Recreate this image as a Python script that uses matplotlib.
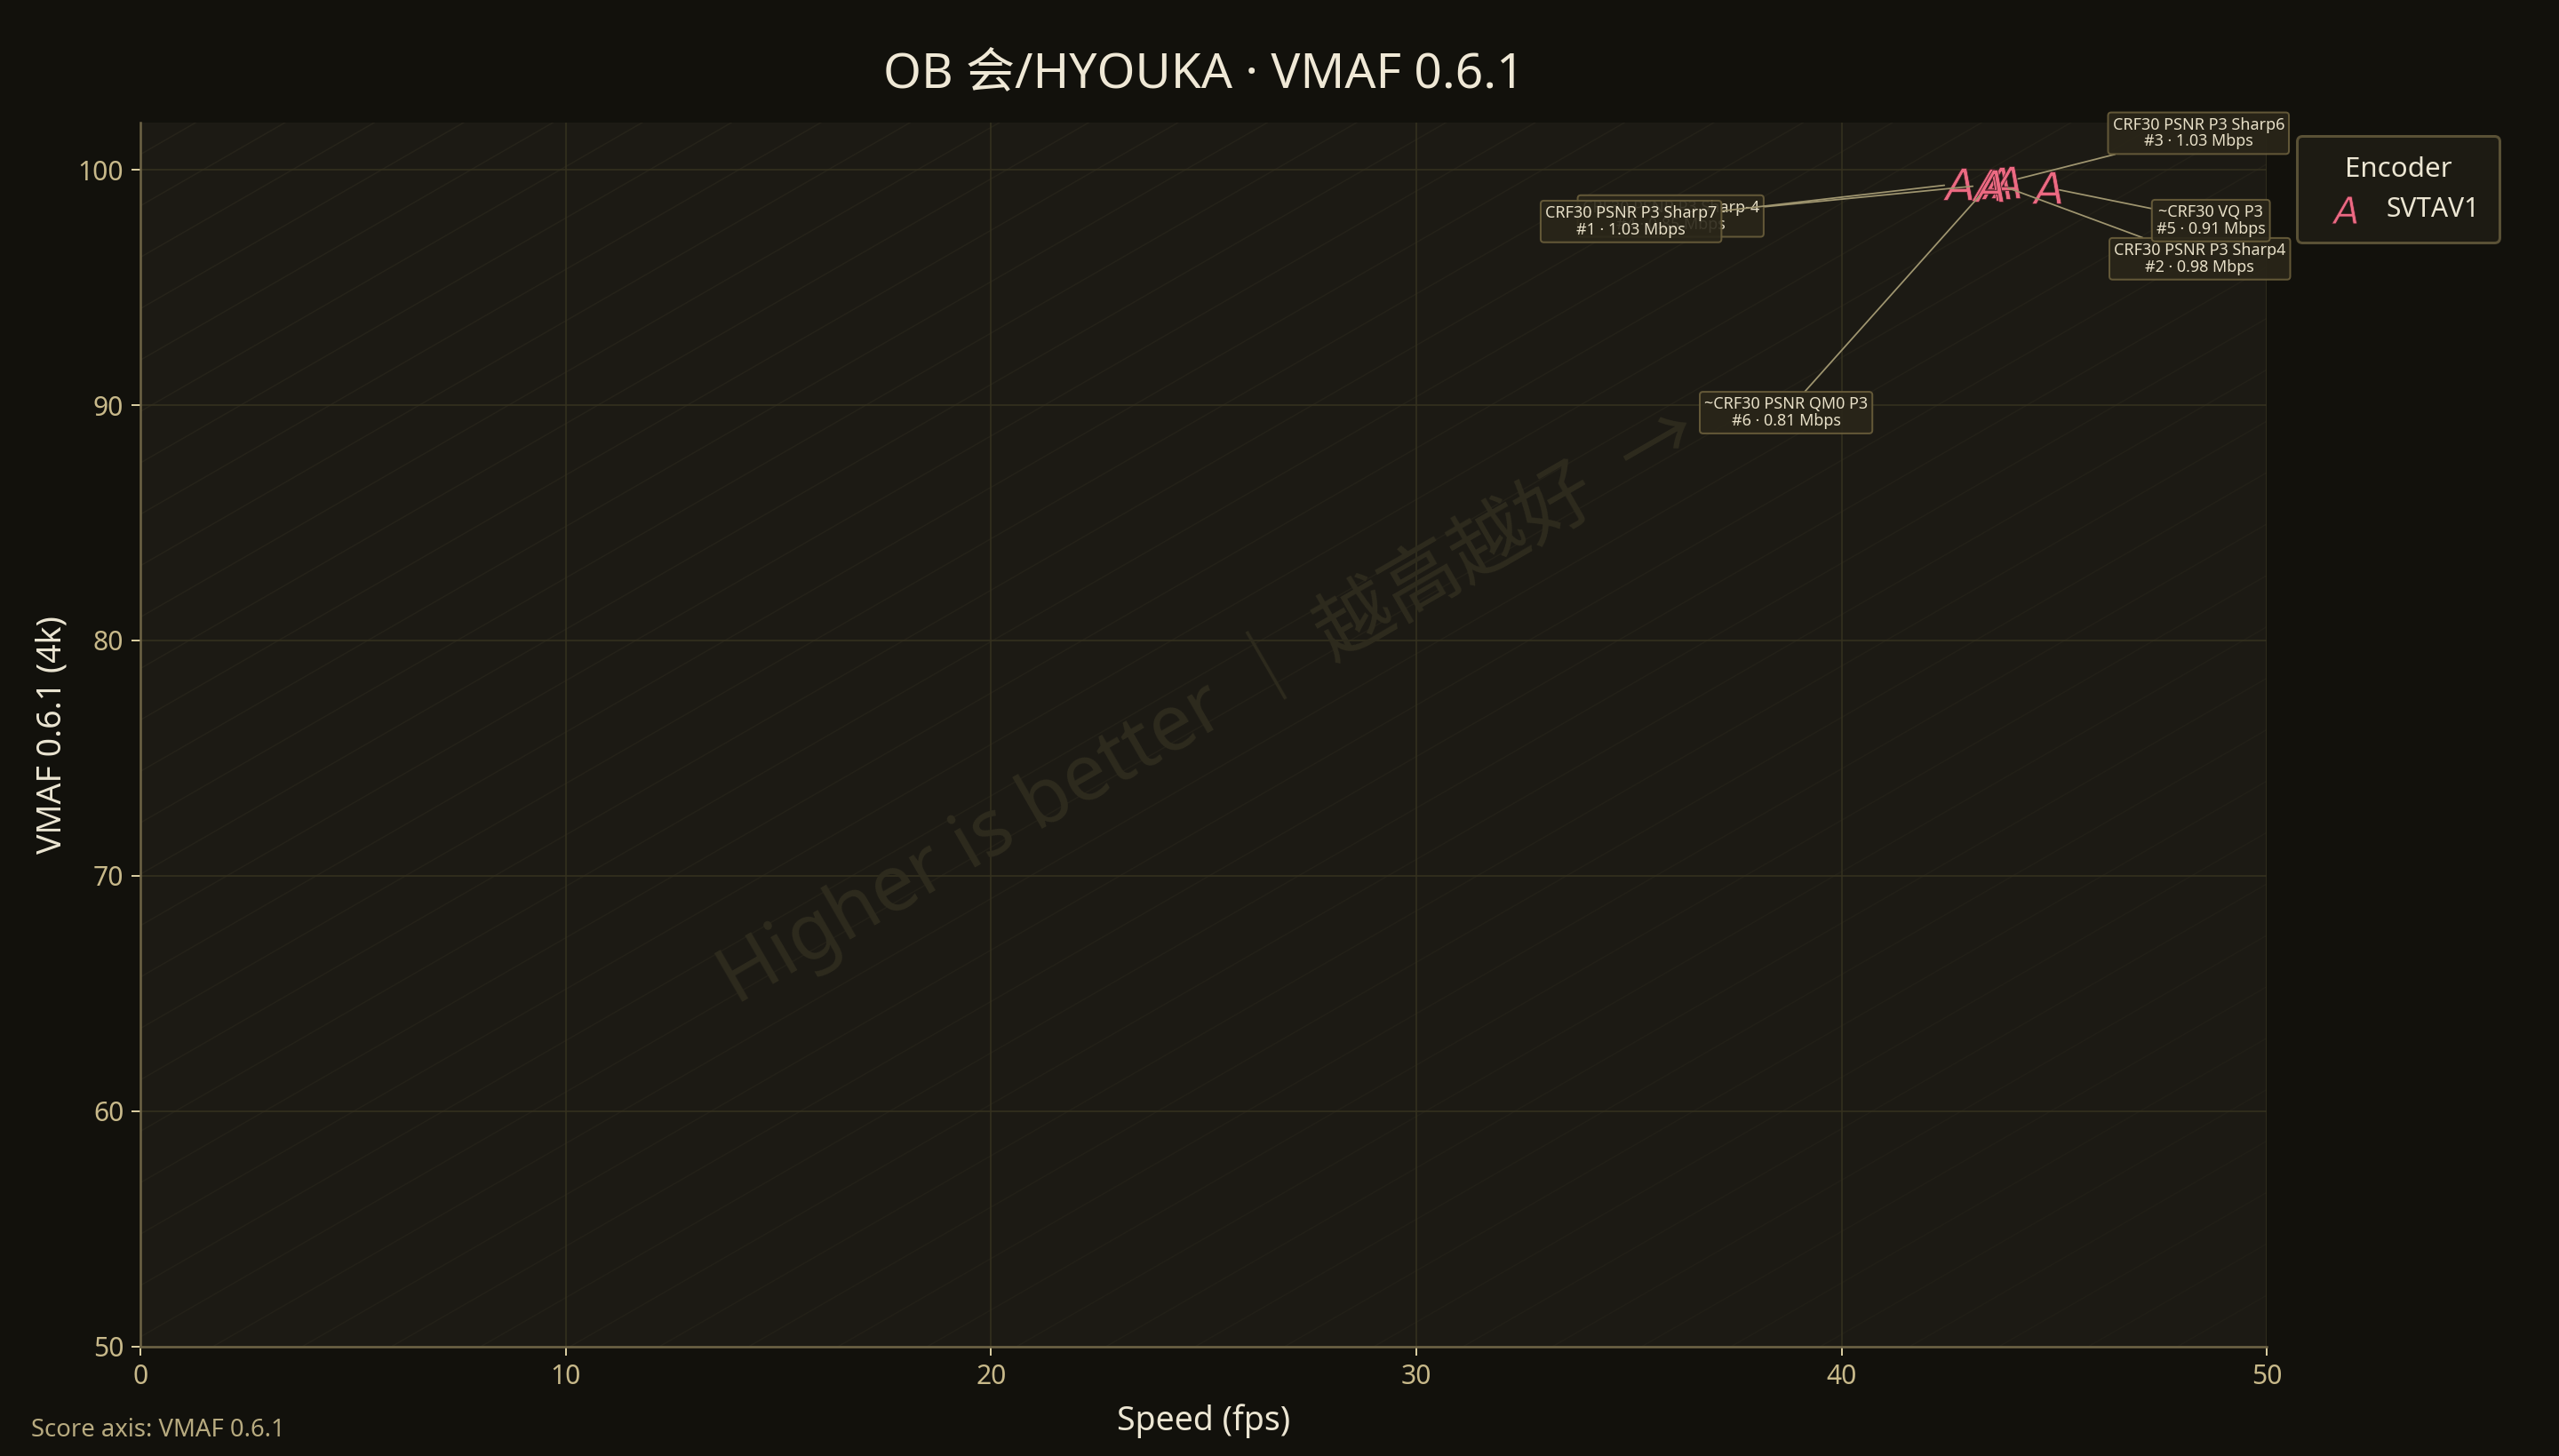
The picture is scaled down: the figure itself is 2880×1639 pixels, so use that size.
import numpy as np
import matplotlib
matplotlib.use('Agg')
import matplotlib.pyplot as plt

plt.rcParams['font.family'] = ['Noto Sans', 'Noto Sans CJK SC', 'DejaVu Sans']

# data
labels = ['CRF30 PSNR P3 Sharp7', 'CRF30 PSNR P3 Sharp4', 'CRF30 PSNR P3 Sharp6',
          'CRF30 PSNR P3 Sharp-4', '~CRF30 VQ P3', '~CRF30 PSNR QM0 P3']
ranks = [1, 2, 3, 4, 5, 6]
bitrate = [1.03, 0.98, 1.03, 0.85, 0.91, 0.81]
speed = [42.73, 43.62, 43.85, 43.40, 44.82, 43.45]
vmaf = [99.40, 99.42, 99.47, 99.35, 99.25, 99.30]
# label box offsets in points (layout only)
offsets = [(-147, -17), (92, -34), (87, 22), (-142, -14), (74, -15), (-91, -102)]

fig_bg = '#12110c'
ax_bg = '#1c1a14'
tan = '#c8b98a'
cream = '#ece6d3'
pink = '#ec6a82'

fig = plt.figure(figsize=(16, 9.106), dpi=180, facecolor=fig_bg)
ax = fig.add_axes([0.0549, 0.0751, 0.8309, 0.8407])
ax.set_facecolor(ax_bg)

ax.set_xlim(0, 50)
ax.set_ylim(50, 102)
ax.set_xticks([0, 10, 20, 30, 40, 50])
ax.set_yticks([50, 60, 70, 80, 90, 100])
ax.grid(True, color='#36321f', lw=0.6)
ax.set_axisbelow(True)
for s in ['top', 'right']:
    ax.spines[s].set_visible(False)
for s in ['left', 'bottom']:
    ax.spines[s].set_color('#6e6446')
    ax.spines[s].set_linewidth(1.0)
ax.tick_params(colors='#d8cca0', labelcolor=tan, labelsize=12, length=4, width=0.8)

# faint diagonal background strokes
k = 1.0
for c in np.arange(-1.0, 1.0, 0.042):
    a = 0.09 + 0.14 * max(0, (c + 1.0) / 2.0)
    ax.plot([0, 1], [c, c + k], transform=ax.transAxes, color='#4a4530',
            lw=0.6, alpha=a, zorder=0.5, clip_on=True)

ax.text(0.502, 0.525, 'Higher is better ｜ 越高越好  →', transform=ax.transAxes,
        rotation=30, ha='center', va='center', fontsize=35, color='#2e2b1e',
        family=['Noto Sans', 'Noto Sans CJK SC', 'DejaVu Sans'], zorder=0.6)

ax.scatter(speed, vmaf, marker='$A$', s=210, c=pink, linewidths=0.3,
           edgecolors='#3a1a20', zorder=5, label='SVTAV1')

order = [3, 0, 1, 2, 4, 5]
for i in order:
    ax.annotate(f'{labels[i]}\n#{ranks[i]} · {bitrate[i]:.2f} Mbps',
                xy=(speed[i], vmaf[i]), xytext=offsets[i], textcoords='offset points',
                ha='center', va='center', fontsize=7.2, color='#e8e0c8',
                linespacing=1.05,
                bbox=dict(boxstyle='round,pad=0.28,rounding_size=0.2', fc='#2a2619',
                          ec='#6b5f3c', lw=0.8, alpha=0.9),
                arrowprops=dict(arrowstyle='-', color='#a09670', lw=0.7,
                                shrinkA=0, shrinkB=6),
                zorder=6)

ax.set_title('OB 会/HYOUKA · VMAF 0.6.1', fontsize=22, color='#efe8d6', pad=16)
ax.set_xlabel('Speed (fps)', fontsize=15, color=cream, labelpad=6)
ax.set_ylabel('VMAF 0.6.1 (4k)', fontsize=15, color=cream, labelpad=4)

leg = ax.legend(title='Encoder', loc='upper left', bbox_to_anchor=(1.008, 1.0),
                fontsize=12, title_fontsize=12.5, frameon=True, borderpad=0.75,
                handletextpad=0.6, markerscale=0.85)
leg.get_frame().set_facecolor('#211e15')
leg.get_frame().set_edgecolor('#6b6040')
leg.get_frame().set_linewidth(1.2)
leg.get_title().set_color(cream)
for t in leg.get_texts():
    t.set_color(cream)

fig.text(0.012, 0.018, 'Score axis: VMAF 0.6.1', fontsize=11, color='#b8ab80',
         ha='left', va='center')

fig.savefig('out.png', dpi=180, facecolor=fig_bg)
